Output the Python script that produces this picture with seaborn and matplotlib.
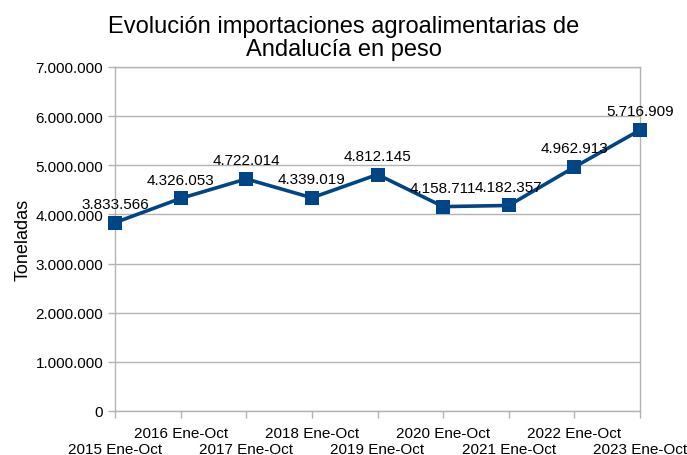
import seaborn as sns
import matplotlib.pyplot as plt
import pandas as pd
from matplotlib.ticker import FuncFormatter

periodos = ['2015 Ene-Oct', '2016 Ene-Oct', '2017 Ene-Oct', '2018 Ene-Oct', '2019 Ene-Oct',
            '2020 Ene-Oct', '2021 Ene-Oct', '2022 Ene-Oct', '2023 Ene-Oct']
toneladas = [3833566, 4326053, 4722014, 4339019, 4812145, 4158711, 4182357, 4962913, 5716909]

df = pd.DataFrame({'idx': range(len(periodos)), 'periodo': periodos, 'toneladas': toneladas})

sns.set_style('white')
plt.rcParams['font.family'] = ['Liberation Sans', 'DejaVu Sans']
plt.rcParams['text.color'] = 'black'
plt.rcParams['axes.labelcolor'] = 'black'

def miles(v):
    return f'{int(v):,}'.replace(',', '.')

fig = plt.figure(figsize=(6.87, 4.56), dpi=100)
ax = fig.add_axes([0.1674, 0.0965, 0.7642, 0.7544])

sns.lineplot(data=df, x='idx', y='toneladas', ax=ax, color='#004586', linewidth=2.6,
             marker='s', markersize=10, markeredgewidth=0, clip_on=False, zorder=3)

for i, v in zip(df['idx'], df['toneladas']):
    ax.annotate(miles(v), (i, v), xytext=(0, 8.5), textcoords='offset points',
                ha='center', va='bottom', fontsize=11, color='black')

ax.set_xlim(0, len(periodos) - 1)
ax.set_ylim(0, 7000000)
ax.set_yticks(range(0, 7000001, 1000000))
ax.yaxis.set_major_formatter(FuncFormatter(lambda v, p: miles(v)))
ax.set_xticks(df['idx'])
ax.set_xticklabels(periodos, fontsize=11)
ax.tick_params(axis='y', labelsize=11, length=5, width=1, color='#b3b3b3', labelcolor='black',
               direction='out', left=True)
ax.tick_params(axis='x', length=5, width=1, color='#b3b3b3', labelcolor='black',
               direction='out', bottom=True, pad=5.5)
# etiquetas alternas en dos filas
for i, t in enumerate(ax.xaxis.get_major_ticks()):
    if i % 2 == 0:
        t.set_pad(17)

ax.grid(axis='y', color='#b3b3b3', linewidth=1)
for s in ax.spines.values():
    s.set_color('#b3b3b3')
    s.set_linewidth(1)
ax.set_axisbelow(True)

ax.set_xlabel('')
ax.set_ylabel('Toneladas', fontsize=13, labelpad=3)
fig.suptitle('Evolución importaciones agroalimentarias de\nAndalucía en peso', fontsize=17,
             x=0.5, y=0.965, va='top', linespacing=1.05)

fig.savefig('out.png', dpi=100)
